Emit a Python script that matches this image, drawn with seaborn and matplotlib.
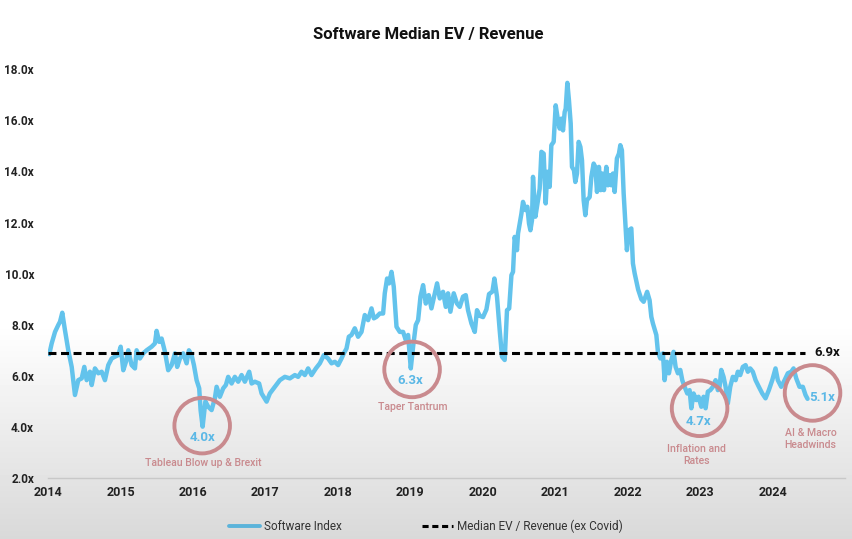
import numpy as np
import matplotlib
matplotlib.use("Agg")
import matplotlib.pyplot as plt
from matplotlib.lines import Line2D
import seaborn as sns
import pandas as pd

# ---------------- data ----------------
title = "Software Median EV / Revenue"
base_year = 2014
# years elapsed since Jan 2014
t_years = [0.000, 0.018, 0.051, 0.097, 0.142, 0.166, 0.197, 0.234, 0.280, 0.327,
           0.372, 0.418, 0.465, 0.501, 0.534, 0.579, 0.603, 0.648, 0.694, 0.741,
           0.786, 0.832, 0.879, 0.924, 0.970, 1.003, 1.039, 1.076, 1.108, 1.154,
           1.200, 1.223, 1.269, 1.314, 1.361, 1.430, 1.476, 1.499, 1.535, 1.568,
           1.614, 1.659, 1.706, 1.752, 1.783, 1.821, 1.866, 1.913, 1.945, 1.982,
           2.014, 2.051, 2.087, 2.106, 2.134, 2.172, 2.211, 2.258, 2.303, 2.327,
           2.372, 2.418, 2.455, 2.487, 2.534, 2.579, 2.625, 2.672, 2.717, 2.777,
           2.810, 2.855, 2.914, 2.948, 3.017, 3.062, 3.131, 3.200, 3.269, 3.338,
           3.407, 3.452, 3.499, 3.545, 3.590, 3.637, 3.697, 3.752, 3.807, 3.866,
           3.913, 3.959, 4.004, 4.051, 4.083, 4.120, 4.152, 4.189, 4.234, 4.280,
           4.327, 4.372, 4.418, 4.465, 4.497, 4.534, 4.579, 4.625, 4.648, 4.680,
           4.708, 4.741, 4.772, 4.810, 4.855, 4.901, 4.938, 4.970, 5.007, 5.039,
           5.076, 5.108, 5.141, 5.177, 5.214, 5.255, 5.292, 5.328, 5.370, 5.407,
           5.452, 5.490, 5.521, 5.554, 5.600, 5.645, 5.683, 5.728, 5.766, 5.797,
           5.844, 5.890, 5.921, 5.959, 6.004, 6.051, 6.087, 6.134, 6.161, 6.197,
           6.234, 6.266, 6.303, 6.335, 6.365, 6.396, 6.418, 6.441, 6.473, 6.487,
           6.534, 6.556, 6.589, 6.616, 6.639, 6.658, 6.680, 6.694, 6.727, 6.763,
           6.786, 6.810, 6.841, 6.869, 6.892, 6.924, 6.947, 6.979, 7.007, 7.039,
           7.062, 7.085, 7.108, 7.131, 7.145, 7.168, 7.190, 7.214, 7.232, 7.259,
           7.278, 7.301, 7.324, 7.348, 7.370, 7.393, 7.416, 7.439, 7.476, 7.499,
           7.531, 7.554, 7.577, 7.604, 7.628, 7.651, 7.673, 7.706, 7.728, 7.752,
           7.775, 7.797, 7.821, 7.852, 7.880, 7.899, 7.921, 7.945, 7.972, 7.990,
           8.018, 8.051, 8.073, 8.097, 8.145, 8.189, 8.221, 8.269, 8.303, 8.327,
           8.349, 8.396, 8.418, 8.451, 8.487, 8.510, 8.542, 8.570, 8.603, 8.634,
           8.662, 8.694, 8.727, 8.754, 8.786, 8.823, 8.855, 8.879, 8.910, 8.948,
           8.979, 9.017, 9.048, 9.076, 9.107, 9.141, 9.177, 9.214, 9.245, 9.269,
           9.292, 9.324, 9.352, 9.383, 9.416, 9.452, 9.490, 9.521, 9.554, 9.590,
           9.628, 9.659, 9.692, 9.728, 9.766, 9.811, 9.858, 9.903, 9.949, 9.996,
           10.041, 10.073, 10.120, 10.166, 10.211, 10.258, 10.290, 10.327, 10.372, 10.418,
           10.455, 10.483]
ev_rev = [6.90, 6.85, 7.27, 7.72, 7.99, 8.12, 8.47, 7.79, 7.00, 6.35,
          5.25, 5.83, 5.90, 6.35, 5.83, 6.16, 5.64, 6.29, 6.10, 6.16,
          5.83, 6.42, 6.68, 6.75, 6.81, 7.14, 6.22, 6.55, 7.00, 6.42,
          6.29, 7.00, 6.68, 6.88, 7.00, 7.14, 7.27, 7.76, 7.33, 7.46,
          6.94, 6.22, 6.42, 6.88, 6.35, 6.68, 6.88, 6.49, 7.00, 6.81,
          6.42, 5.83, 5.51, 4.66, 4.01, 5.00, 4.79, 4.66, 5.12, 5.57,
          5.18, 5.51, 5.64, 5.96, 5.70, 5.96, 5.77, 6.03, 5.77, 6.16,
          5.70, 5.77, 5.70, 5.31, 4.99, 5.31, 5.57, 5.83, 5.96, 5.90,
          6.03, 5.96, 6.16, 6.03, 6.29, 6.03, 6.29, 6.49, 6.81, 6.68,
          6.49, 6.55, 6.42, 6.68, 6.88, 7.07, 7.53, 7.60, 7.86, 7.53,
          7.72, 8.38, 8.18, 8.64, 8.25, 8.31, 8.44, 8.44, 9.23, 9.81,
          9.62, 10.07, 9.49, 7.92, 7.72, 7.72, 7.40, 7.60, 6.29, 7.14,
          7.99, 8.18, 9.10, 9.55, 8.83, 9.16, 8.64, 9.10, 9.62, 9.03,
          9.29, 8.70, 9.23, 8.51, 9.23, 8.83, 8.70, 9.10, 9.16, 8.57,
          8.05, 7.72, 8.57, 8.35, 8.30, 8.60, 9.20, 9.30, 9.81, 9.10,
          7.79, 6.75, 6.62, 8.57, 8.64, 9.94, 10.07, 11.44, 10.92, 11.57,
          12.35, 12.81, 12.49, 12.62, 11.96, 11.70, 12.09, 13.79, 12.23, 12.88,
          13.33, 14.77, 14.70, 12.75, 13.99, 13.40, 15.03, 15.16, 16.59, 16.00,
          15.68, 16.07, 15.61, 16.33, 16.46, 17.47, 16.79, 15.88, 14.18, 14.05,
          13.59, 13.92, 15.16, 14.96, 14.44, 12.88, 12.29, 12.88, 13.00, 13.79,
          14.31, 14.18, 13.20, 14.18, 13.27, 13.92, 13.27, 14.18, 13.46, 13.85,
          13.46, 13.92, 13.20, 14.51, 14.70, 15.03, 14.83, 13.14, 11.83, 10.92,
          11.70, 11.77, 10.40, 10.01, 9.38, 9.00, 8.90, 9.29, 8.96, 8.31,
          8.05, 7.60, 6.94, 6.68, 6.88, 5.83, 6.55, 6.10, 6.62, 6.94,
          6.35, 6.10, 6.23, 5.83, 5.57, 5.31, 5.44, 4.73, 5.31, 5.05,
          5.18, 4.79, 5.18, 4.73, 5.38, 5.44, 5.57, 5.83, 5.44, 5.57,
          6.23, 5.96, 5.57, 4.92, 5.57, 5.96, 5.83, 6.16, 6.03, 6.35,
          6.42, 6.16, 6.29, 6.16, 5.83, 5.57, 5.31, 5.12, 5.44, 5.83,
          6.29, 5.83, 5.57, 5.83, 6.10, 6.16, 6.29, 5.90, 5.57, 5.57,
          5.25, 5.10]

median_value = 6.9
median_end_offset = 10.45
year_ticks = list(range(2014, 2025))
y_ticks = [2, 4, 6, 8, 10, 12, 14, 16, 18]

# annotations: (year offset, value) for circle, value label, caption
circle_pos = [(2.128, 4.05), (5.025, 6.25), (8.993, 4.73), (10.552, 5.33)]
value_labels = ["4.0x", "6.3x", "4.7x", "5.1x"]
value_label_pos = [(2.138, 3.60), (5.003, 5.83), (8.979, 4.20), (10.69, 5.17)]
captions = ["Tableau Blow up & Brexit", "Taper Tantrum", "Inflation and\nRates", "AI & Macro\nHeadwinds"]
caption_pos = [(2.138, 2.58), (5.039, 4.78), (8.952, 2.90), (10.524, 3.52)]

series_name = "Software Index"
median_name = "Median EV / Revenue (ex Covid)"

# ---------------- style ----------------
sns.set_theme(style="white")
plt.rcParams['font.family'] = ['Roboto', 'DejaVu Sans']

line_color = "#63C3EC"
rose = "#C98A8E"

fig = plt.figure(figsize=(8.52, 5.39), dpi=100)
fig.patch.set_facecolor("white")

# background gradient (white to light grey at bottom)
bg = fig.add_axes([0, 0, 1, 1], zorder=-10)
rows = 539
frac = np.linspace(0, 1, rows)  # 0 top, 1 bottom
shade = np.where(frac < 0.60, 1.0, 1.0 - (frac - 0.60) / 0.40 * 0.15)
grad = np.tile(shade[:, None], (1, 10))
bg.imshow(grad, aspect="auto", cmap="gray", vmin=0, vmax=1, extent=[0, 1, 0, 1])
bg.axis("off")

ax = fig.add_axes([48 / 852, 1 - 478 / 539, (845 - 48) / 852, (478 - 54) / 539])
ax.set_facecolor("none")

df = pd.DataFrame({"year": [base_year + t for t in t_years], "value": ev_rev})
sns.lineplot(data=df, x="year", y="value", ax=ax, color=line_color, linewidth=3.2,
             estimator=None, sort=False, solid_capstyle="round", solid_joinstyle="round")

ax.hlines(median_value, base_year, base_year + median_end_offset, colors="black",
          linestyles=(0, (2.6, 1.5)), linewidth=2.2)
ax.text(base_year + 10.58, median_value, f"{median_value:.1f}x", ha="left", va="center",
        fontsize=9.5, fontweight="bold", color="#111111")

for (cx, cy) in circle_pos:
    ax.scatter([base_year + cx], [cy], s=1600, facecolors="none", edgecolors=rose,
               linewidths=2.8, zorder=5)
for lab, (lx, ly) in zip(value_labels, value_label_pos):
    ax.text(base_year + lx, ly, lab, ha="center", va="center", fontsize=9.5,
            fontweight="bold", color="#5BB8E6", zorder=6)
for cap, (lx, ly) in zip(captions, caption_pos):
    ax.text(base_year + lx, ly, cap, ha="center", va="center", fontsize=7.6,
            fontweight="medium", color=rose, linespacing=1.25, zorder=6)

ax.set_xlim(2014, 2025)
ax.set_ylim(2, 18.6)
ax.set_xticks(year_ticks)
ax.set_xticklabels([str(y) for y in year_ticks], fontsize=9, fontweight="bold", color="#222222")
ax.set_yticks(y_ticks)
ax.set_yticklabels([f"{v:.1f}x" for v in y_ticks], fontsize=8.5, fontweight="bold", color="#222222")
ax.tick_params(axis="both", length=0, pad=6)
ax.tick_params(axis="y", pad=10)
ax.set_xlabel("")
ax.set_ylabel("")
for s in ["left", "right", "top"]:
    ax.spines[s].set_visible(False)
ax.spines["bottom"].set_color("#C8C8C8")
ax.spines["bottom"].set_linewidth(1.0)
ax.grid(False)

fig.text(0.503, 1 - 34 / 539, title, ha="center", va="center", fontsize=12,
         fontweight="bold", color="#111111")

handles = [Line2D([0], [0], color="#5BB3DA", lw=2.8),
           Line2D([0], [0], color="black", lw=2.2, linestyle=(0, (2.0, 1.2)))]
fig.legend(handles, [series_name, median_name], loc="center", ncol=2,
           bbox_to_anchor=(0.5, 1 - 526 / 539), frameon=False, fontsize=8.5,
           handlelength=2.6, handletextpad=0.35, columnspacing=6.8,
           labelcolor="#333333")

fig.savefig("out.png", dpi=100, facecolor=fig.get_facecolor())
